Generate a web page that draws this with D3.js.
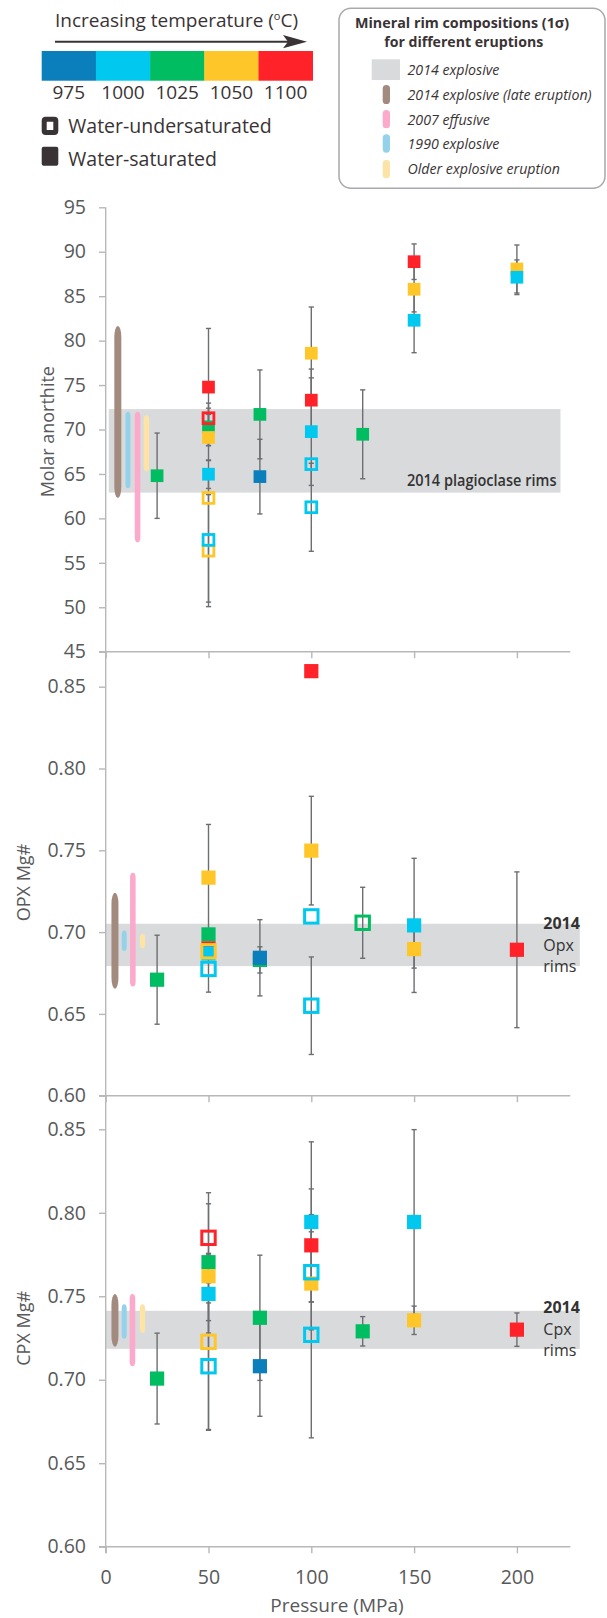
<!DOCTYPE html>
<html><head><meta charset="utf-8">
<script src="https://cdn.jsdelivr.net/npm/d3@7"></script>
<style>body{margin:0;background:#fff}svg{display:block;font-family:"Open Sans","Noto Sans",sans-serif}</style>
</head><body><svg id="c" width="607" height="1618"></svg>
<script>
// ---------- data ----------
const temperatures = [975, 1000, 1025, 1050, 1100];
const tempColors = ['#0a7fbc', '#00c8ee', '#00bd62', '#ffc629', '#ff2228'];
const eruptionLabels = ['2014 explosive', '2014 explosive (late eruption)', '2007 effusive', '1990 explosive', 'Older explosive eruption'];
const eruptionColors = ['#d9dadc', '#a28a7e', '#fbaacb', '#94d2ec', '#fde4a6'];
const xTicks = [0, 50, 100, 150, 200];
const plagTicks = [45, 50, 55, 60, 65, 70, 75, 80, 85, 90, 95];
const mgTicks = [0.60, 0.65, 0.70, 0.75, 0.80, 0.85];

// plagioclase (molar anorthite); wet: 1 = water-saturated (filled), 0 = under-saturated (open)
const plagP = [25, 50, 50, 50, 50, 50, 50, 50, 50, 75, 75, 100, 100, 100, 100, 100, 125, 150, 150, 150, 200, 200];
const plagV = [64.8, 74.77, 70.3, 71.27, 69.1, 64.97, 62.3, 56.37, 57.58, 71.7, 64.7, 78.58, 73.3, 69.76, 66.1, 61.25, 69.46, 88.88, 85.78, 82.29, 88.06, 87.13];
const plagE = [4.8, 6.6, 2.1, 1.7, 2.6, 1.6, 0, 6.3, 7.0, 5.0, 4.2, 5.2, 3.5, 6.05, 0, 4.95, 5.0, 2.0, 2.55, 3.65, 2.7, 1.95];
const plagT = [1025, 1100, 1025, 1100, 1050, 1000, 1050, 1050, 1000, 1025, 975, 1050, 1100, 1000, 1000, 1000, 1025, 1100, 1050, 1000, 1050, 1000];
const plagWet = [1, 1, 1, 0, 1, 1, 0, 0, 0, 1, 1, 1, 1, 1, 0, 0, 1, 1, 1, 1, 1, 1];

// orthopyroxene Mg#
const opxP = [25, 50, 50, 50, 50, 50, 50, 75, 75, 100, 100, 100, 100, 125, 150, 150, 200];
const opxV = [0.6709, 0.7333, 0.6986, 0.6900, 0.6870, 0.6883, 0.6775, 0.6830, 0.6843, 0.8595, 0.7498, 0.7096, 0.6550, 0.7057, 0.7041, 0.6896, 0.6892];
const opxE = [0.0272, 0.0325, 0, 0, 0, 0, 0.0142, 0.008, 0.0233, 0, 0.0332, 0, 0.0298, 0.0217, 0.041, 0.0116, 0.0476];
const opxT = [1025, 1050, 1025, 1100, 1000, 1050, 1000, 1025, 975, 1100, 1050, 1000, 1000, 1025, 1000, 1050, 1100];
const opxWet = [1, 1, 1, 1, 1, 0, 0, 1, 1, 1, 1, 0, 0, 0, 1, 1, 1];

// clinopyroxene Mg#
const cpxP = [25, 50, 50, 50, 50, 50, 50, 75, 75, 100, 100, 100, 100, 100, 125, 150, 150, 200];
const cpxV = [0.7007, 0.7850, 0.7704, 0.7620, 0.7514, 0.7227, 0.7081, 0.7371, 0.7081, 0.7945, 0.7805, 0.7576, 0.7644, 0.7269, 0.7290, 0.7945, 0.7356, 0.7300];
const cpxE = [0.0272, 0.027, 0.035, 0, 0.0234, 0.053, 0.0379, 0.0375, 0.030, 0.048, 0.0338, 0, 0.0345, 0.0617, 0.0088, 0.0553, 0.0085, 0.010];
const cpxT = [1025, 1100, 1025, 1050, 1000, 1050, 1000, 1025, 975, 1000, 1100, 1050, 1000, 1000, 1025, 1000, 1050, 1100];
const cpxWet = [1, 0, 1, 1, 1, 0, 0, 1, 1, 1, 1, 1, 0, 0, 1, 1, 1, 1];

// other eruptions in legend order (late 2014, 2007, 1990, older): pressure position and 1-sigma range
const plagRangeP = [5.9, 15.5, 10.8, 19.8];
const plagRangeLo = [62.3, 57.3, 63.4, 65.3];
const plagRangeHi = [81.65, 72.0, 72.0, 71.6];
const opxRangeP = [4.5, 13.2, 9.0, 17.9];
const opxRangeLo = [0.6654, 0.6668, 0.6884, 0.690];
const opxRangeHi = [0.7241, 0.7363, 0.701, 0.699];
const cpxRangeP = [4.5, 13.0, 9.0, 17.9];
const cpxRangeLo = [0.7197, 0.7081, 0.7245, 0.728];
const cpxRangeHi = [0.7514, 0.7514, 0.7452, 0.7452];

// 2014 explosive rim range (band)
const plagBand = [62.9, 72.3];
const opxBand = [0.6792, 0.7051];
const cpxBand = [0.7185, 0.7413];
const plagBandP = [1.5, 221.2];
const pyxBandP = [0, 230.6];

// ---------- drawing ----------
const svg = d3.select('#c');
const ink = '#3a3335', grey = '#58595b', axisCol = '#b8b8b8', errCol = '#6d6e71';
const color = d3.scaleOrdinal().domain(temperatures).range(tempColors);
const x = d3.scaleLinear().domain([0, 225]).range([105.7, 568.3]);

const panels = [
  {y: d3.scaleLinear().domain([45, 95]).range([651.7, 207.3]), ticks: plagTicks, fmt: d3.format('d'),
   P: plagP, V: plagV, E: plagE, T: plagT, W: plagWet, rP: plagRangeP, rLo: plagRangeLo, rHi: plagRangeHi,
   band: plagBand, bandP: plagBandP, fs: 12.7, os: 13.6, ow: 2.8},
  {y: d3.scaleLinear().domain([0.60, 0.85]).range([1095.7, 686.7]), ticks: mgTicks, fmt: d3.format('.2f'),
   P: opxP, V: opxV, E: opxE, T: opxT, W: opxWet, rP: opxRangeP, rLo: opxRangeLo, rHi: opxRangeHi,
   band: opxBand, bandP: pyxBandP, fs: 14.2, os: 16.4, ow: 3.0},
  {y: d3.scaleLinear().domain([0.60, 0.85]).range([1546.7, 1129.3]), ticks: mgTicks, fmt: d3.format('.2f'),
   P: cpxP, V: cpxV, E: cpxE, T: cpxT, W: cpxWet, rP: cpxRangeP, rLo: cpxRangeLo, rHi: cpxRangeHi,
   band: cpxBand, bandP: pyxBandP, fs: 14.2, os: 16.4, ow: 3.0}
];
const rangeW = [7.0, 5.6, 5.0, 5.4];

panels.forEach((p, pi) => {
  const g = svg.append('g');
  const y = p.y;
  // band
  g.append('rect').attr('x', x(p.bandP[0])).attr('width', x(p.bandP[1]) - x(p.bandP[0]))
    .attr('y', y(p.band[1])).attr('height', y(p.band[0]) - y(p.band[1])).attr('fill', eruptionColors[0]);
  // other eruption ranges (capsules)
  p.rP.forEach((v, i) => {
    const top = y(p.rHi[i]), h = y(p.rLo[i]) - top, w = rangeW[i];
    g.append('rect').attr('x', x(v) - w / 2).attr('y', top).attr('width', w).attr('height', h)
      .attr('rx', w / 2).attr('ry', Math.min(h / 2, i === 0 ? w * 1.6 : w * 0.9))
      .attr('fill', eruptionColors[i + 1]);
  });
  // axes (ticks + labels)
  const ya = d3.axisLeft(y).tickValues(p.ticks).tickFormat(p.fmt).tickSize(6.7).tickPadding(13).tickSizeOuter(0);
  const yg = g.append('g').attr('transform', `translate(${x(0)},0)`).call(ya);
  yg.select('.domain').remove();
  yg.selectAll('line').attr('stroke', axisCol).attr('stroke-width', 1.4);
  yg.selectAll('text').attr('fill', grey).style('font-size', '19.5px').style('font-family', '"Open Sans",sans-serif');
  const axisY = y.range()[0];
  const xa = d3.axisBottom(x).tickValues(xTicks).tickSize(6.5).tickPadding(16.5).tickSizeOuter(0);
  const xg = g.append('g').attr('transform', `translate(0,${axisY})`).call(xa);
  xg.select('.domain').remove();
  xg.selectAll('line').attr('stroke', axisCol).attr('stroke-width', 1.4);
  if (pi < 2) xg.selectAll('text').remove();
  else xg.selectAll('text').attr('fill', grey).style('font-size', '19.5px').style('font-family', '"Open Sans",sans-serif');
  g.append('line').attr('x1', x(0) - 6.7).attr('x2', x(225) + 2).attr('y1', axisY).attr('y2', axisY)
    .attr('stroke', axisCol).attr('stroke-width', 1.4);
  // error bars
  const eg = g.append('g').attr('stroke', errCol).attr('stroke-width', 1.4);
  p.P.forEach((pp, i) => {
    if (!p.E[i]) return;
    const cx = x(pp), t = y(p.V[i] + p.E[i]), b = y(p.V[i] - p.E[i]);
    eg.append('line').attr('x1', cx).attr('x2', cx).attr('y1', t).attr('y2', b);
    eg.append('line').attr('x1', cx - 2.6).attr('x2', cx + 2.6).attr('y1', t).attr('y2', t);
    eg.append('line').attr('x1', cx - 2.6).attr('x2', cx + 2.6).attr('y1', b).attr('y2', b);
  });
  // squares
  p.P.forEach((pp, i) => {
    const cx = x(pp), cy = y(p.V[i]), c = color(p.T[i]);
    if (p.W[i]) {
      g.append('rect').attr('x', cx - p.fs / 2).attr('y', cy - p.fs / 2).attr('width', p.fs).attr('height', p.fs)
        .attr('fill', c);
    } else {
      const s = p.os - p.ow;
      g.append('rect').attr('x', cx - s / 2).attr('y', cy - s / 2).attr('width', s).attr('height', s)
        .attr('fill', 'none').attr('stroke', c).attr('stroke-width', p.ow);
    }
  });
});

// continuous y axis line
svg.append('line').attr('x1', x(0)).attr('x2', x(0)).attr('y1', panels[0].y(95)).attr('y2', panels[2].y(0.6) + 6.5)
  .attr('stroke', axisCol).attr('stroke-width', 1.4);

// axis titles
const yTitles = [['Molar anorthite', 54, 431.7], ['OPX Mg#', 29.5, 882.5], ['CPX Mg#', 29.5, 1328.3]];
yTitles.forEach(([t, tx, ty]) => {
  svg.append('text').attr('transform', `translate(${tx},${ty}) rotate(-90)`).attr('text-anchor', 'middle')
    .attr('fill', grey).style('font-size', '18px').text(t);
});
svg.append('text').attr('x', 337).attr('y', 1612).attr('text-anchor', 'middle').attr('fill', grey)
  .style('font-size', '19px').text('Pressure (MPa)');

// band annotations
svg.append('text').attr('x', 556.5).attr('y', 486).attr('text-anchor', 'end').attr('fill', '#333')
  .style('font-size', '15.5px').style('font-weight', 600).attr('textLength', 149.6).attr('lengthAdjust', 'spacingAndGlyphs')
  .text('2014 plagioclase rims');
[['2014', 'Opx', 'rims', [929.3, 951, 971.7]], ['2014', 'Cpx', 'rims', [1313.3, 1335, 1356]]].forEach(([a, b, c, ys]) => {
  [a, b, c].forEach((t, i) => {
    svg.append('text').attr('x', 543.3).attr('y', ys[i]).attr('fill', '#333')
      .style('font-size', '16px').style('font-weight', i === 0 ? 700 : 500).text(t);
  });
});

// ---------- temperature legend ----------
svg.append('text').attr('x', 55).attr('y', 26.7).attr('fill', ink).style('font-size', '19px')
  .call(t => {
    t.append('tspan').text('Increasing temperature (');
    t.append('tspan').attr('dy', -7).style('font-size', '11px').text('o');
    t.append('tspan').attr('dy', 7).text('C)');
  });
svg.append('line').attr('x1', 55).attr('x2', 292).attr('y1', 41.7).attr('y2', 41.7).attr('stroke', ink).attr('stroke-width', 2);
svg.append('path').attr('d', 'M283,35 L307,41.7 L283,48.3 L288,41.7 Z').attr('fill', ink);
const tb = d3.scaleBand().domain(temperatures).range([41.7, 312.7]);
temperatures.forEach(t => {
  svg.append('rect').attr('x', tb(t)).attr('y', 51).attr('width', tb.bandwidth() + 0.3).attr('height', 29.7).attr('fill', color(t));
  svg.append('text').attr('x', tb(t) + tb.bandwidth() / 2).attr('y', 99.3).attr('text-anchor', 'middle')
    .attr('fill', ink).style('font-size', '19px').text(t);
});
svg.append('rect').attr('x', 44.2).attr('y', 119.2).attr('width', 11.6).attr('height', 13.3).attr('rx', 1.5)
  .attr('fill', 'none').attr('stroke', ink).attr('stroke-width', 5);
svg.append('rect').attr('x', 41.7).attr('y', 146.7).attr('width', 16.6).attr('height', 19).attr('rx', 2).attr('fill', ink);
svg.append('text').attr('x', 68.3).attr('y', 132.7).attr('fill', ink).style('font-size', '19.5px').text('Water-undersaturated');
svg.append('text').attr('x', 68.3).attr('y', 165.7).attr('fill', ink).style('font-size', '19.5px').text('Water-saturated');

// ---------- eruption legend ----------
svg.append('rect').attr('x', 339).attr('y', 8.3).attr('width', 266).attr('height', 180).attr('rx', 12)
  .attr('fill', '#fff').attr('stroke', '#a7a9ac').attr('stroke-width', 1.5);
svg.append('text').attr('x', 462).attr('y', 28.3).attr('text-anchor', 'middle').attr('fill', ink)
  .style('font-size', '14.5px').style('font-weight', 700).attr('textLength', 214).attr('lengthAdjust', 'spacingAndGlyphs')
  .text('Mineral rim compositions (1σ)');
svg.append('text').attr('x', 463.7).attr('y', 46.7).attr('text-anchor', 'middle').attr('fill', ink)
  .style('font-size', '14.5px').style('font-weight', 700).attr('textLength', 159).attr('lengthAdjust', 'spacingAndGlyphs')
  .text('for different eruptions');
const legBase = [75, 100, 124.5, 149.3, 174];
const pillY = [[85, 104], [110, 128.3], [134.3, 152.7], [160, 178.3]];
eruptionLabels.forEach((lab, i) => {
  if (i === 0) {
    svg.append('rect').attr('x', 371.7).attr('y', 59.3).attr('width', 28.3).attr('height', 20.7).attr('fill', eruptionColors[0]);
  } else {
    const [a, b] = pillY[i - 1];
    svg.append('rect').attr('x', 382.7).attr('y', a).attr('width', 7.3).attr('height', b - a).attr('rx', 3.6)
      .attr('fill', eruptionColors[i]);
  }
  svg.append('text').attr('x', 407.5).attr('y', legBase[i]).attr('fill', ink).style('font-size', '14.2px')
    .style('font-style', 'italic').text(lab);
});
</script></body></html>
